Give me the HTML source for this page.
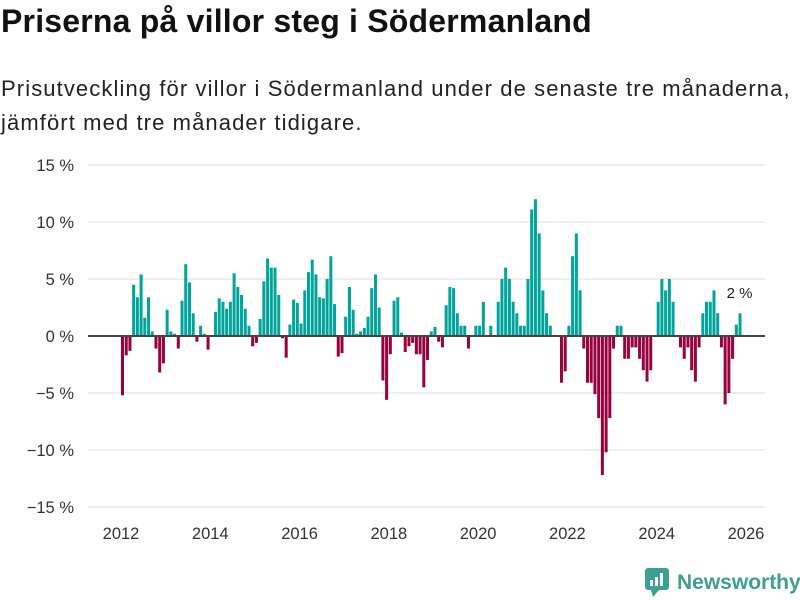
<!DOCTYPE html>
<html><head><meta charset="utf-8"><style>
body{margin:0;background:#fff;font-family:"Liberation Sans","DejaVu Sans",sans-serif;}
#wrap{position:relative;width:800px;height:600px;overflow:hidden;}
h1{position:absolute;left:1px;top:3px;margin:0;font-size:32px;font-weight:bold;color:#111;letter-spacing:0.2px;}
p.sub{position:absolute;left:1px;top:72px;margin:0;font-size:22px;letter-spacing:1.1px;line-height:34px;color:#222;width:799px;white-space:nowrap;}
</style></head><body>
<div id="wrap">
<h1>Priserna på villor steg i Södermanland</h1>
<p class="sub">Prisutveckling för villor i Södermanland under de senaste tre månaderna,<br>jämfört med tre månader tidigare.</p>
<svg id="chart" width="800" height="600" style="position:absolute;left:0;top:0"></svg>
<div style="position:absolute;left:645px;top:568px;display:flex;align-items:center;">
<svg width="24" height="30" viewBox="0 0 24 30"><rect x="0" y="0" width="24" height="22" rx="3" fill="#3d9f8f"/><polygon points="6,22 14,22 8,29" fill="#3d9f8f"/><rect x="5" y="12" width="3" height="6" fill="#fff"/><rect x="10" y="9" width="3" height="9" fill="#fff"/><rect x="15" y="5" width="3" height="13" fill="#fff"/></svg>
<span style="margin-left:8px;font-size:21px;font-weight:bold;color:#3d9f8f;">Newsworthy</span></div>
</div>
<script>
const yTicks=[15,10,5,0,-5,-10,-15];
const yTickLabels=["15 %","10 %","5 %","0 %","−5 %","−10 %","−15 %"];
const xYears=[2012,2014,2016,2018,2020,2022,2024,2026];
const startYear=2012;
const values=[-5.2,-1.7,-1.3,4.5,3.4,5.4,1.6,3.4,0.4,-1.1,-3.2,-2.4,2.3,0.4,0.2,-1.1,3.1,6.3,4.7,2.0,-0.5,0.9,0.2,-1.2,0,2.1,3.3,3.0,2.4,3.0,5.5,4.3,3.6,2.4,0.9,-0.9,-0.6,1.5,4.8,6.8,6.0,6.0,3.6,
-0.2,-1.9,1.0,3.2,2.9,1.1,4.0,5.6,6.7,5.4,3.4,3.3,5.0,7.0,2.8,-1.8,-1.5,1.7,4.3,2.3,0.2,0.4,0.7,1.7,4.2,5.4,2.5,-3.9,-5.6,-1.6,3.1,3.4,0.3,-1.4,-0.9,-0.6,-1.6,-1.6,-4.5,-2.1,0.4,0.8,-0.5,-1.0,2.7,4.3,4.2,
2.0,0.9,0.9,-1.1,0,0.9,0.9,3.0,0,0.9,0,3.0,5.0,6.0,5.0,3.0,2.0,0.9,0.9,5.0,11.1,12.0,9.0,4.0,2.0,0.9,0,0,-4.1,-3.1,0.9,7.0,9.0,4.0,-1.1,-4.1,-4.1,-5.1,-7.2,-12.2,-10.2,-7.2,-1.1,0.9,0.9,-2.0,-2.0,
-1.0,-1.0,-2.0,-3.0,-4.0,-3.0,0,3.0,5.0,4.0,5.0,3.0,0,-1.0,-2.0,-1.0,-3.0,-4.0,-1.0,2.0,3.0,3.0,4.0,2.0,-1.0,-6.0,-5.0,-2.0,1.0,2.0];
const lastLabel="2 %";
const NS="http://www.w3.org/2000/svg";
const svg=document.getElementById('chart');
function y(v){return 336-v*11.4;}
function x(m){return 121+3.72*m;}
function mk(t,a){const e=document.createElementNS(NS,t);for(const k in a)e.setAttribute(k,a[k]);svg.appendChild(e);return e;}
yTicks.forEach((t,i)=>{
  if(t!==0){const g=mk('line',{x1:88,x2:765,y1:y(t),y2:y(t),stroke:'#ddd','stroke-width':1});
  
  }
  const l=mk('text',{x:74,y:y(t)+6,'text-anchor':'end','font-size':16.5,fill:'#333'});
  l.textContent=yTickLabels[i];
  
  
});
values.forEach((v,i)=>{
  if(v===0)return;
  const r=mk('rect',{x:x(i),width:3,y:v>0?y(v):336,height:Math.abs(v)*11.4,fill:v>0?'#00a49a':'#98003f'});
  
  
});
const z=mk('line',{x1:88,x2:765,y1:336,y2:336,stroke:'#444','stroke-width':2});


xYears.forEach(yr=>{
  const t=mk('text',{x:x((yr-startYear)*12),y:539,'text-anchor':'middle','font-size':16.5,fill:'#333'});
  t.textContent=String(yr);
  
  
});
const li=values.length-1;
const lab=mk('text',{x:x(li)+1,y:y(values[li])-15,'text-anchor':'middle','font-size':15,fill:'#222'});
lab.textContent=lastLabel;


</script>
</body></html>
